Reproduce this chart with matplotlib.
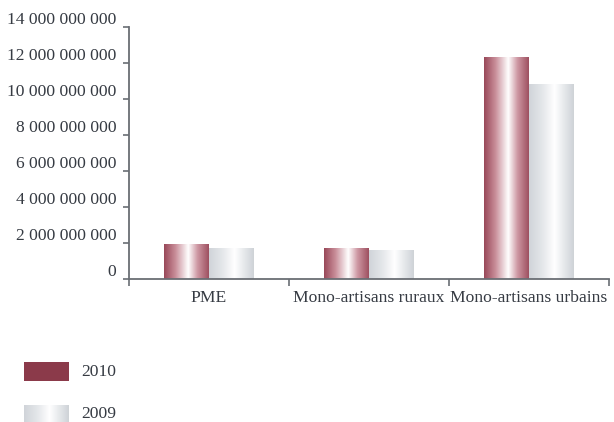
import numpy as np
import matplotlib
matplotlib.use("Agg")
import matplotlib.pyplot as plt
from matplotlib.colors import LinearSegmentedColormap
from matplotlib.ticker import FuncFormatter
import matplotlib.transforms as mtransforms

categories = ["PME", "Mono-artisans ruraux", "Mono-artisans urbains"]
series_names = ["2010", "2009"]
values_2010 = [1.94e9, 1.67e9, 12.28e9]
values_2009 = [1.67e9, 1.56e9, 10.83e9]
yticks = [0, 2e9, 4e9, 6e9, 8e9, 10e9, 12e9, 14e9]

plt.rcParams['font.family'] = ['Liberation Serif', 'DejaVu Serif']
text_color = '#363b43'
axis_color = '#6a6e74'
fs = 12.6

def rgb(r, g, b):
    return (r / 255, g / 255, b / 255)

cmap_2010 = LinearSegmentedColormap.from_list('c2010', [
    (0.0, rgb(152, 72, 88)), (0.25, rgb(200, 140, 152)), (0.54, rgb(255, 255, 255)),
    (0.75, rgb(205, 150, 162)), (1.0, rgb(158, 80, 96))])
cmap_2009 = LinearSegmentedColormap.from_list('c2009', [
    (0.0, rgb(208, 212, 217)), (0.3, rgb(228, 231, 234)), (0.57, rgb(255, 255, 255)),
    (0.8, rgb(228, 231, 234)), (1.0, rgb(206, 210, 215))])
grad = np.linspace(0, 1, 256).reshape(1, -1)

fig = plt.figure(figsize=(6.14, 4.22), dpi=100)
ax = fig.add_axes([129 / 614, 1 - 279 / 422, 480 / 614, 252 / 422])

x = np.arange(len(categories))
w = 0.28
bars_a = ax.bar(x - w / 2, values_2010, w, facecolor='none', edgecolor='none')
bars_b = ax.bar(x + w / 2, values_2009, w, facecolor='none', edgecolor='none')
for bars, cm in ((bars_a, cmap_2010), (bars_b, cmap_2009)):
    for r in bars:
        x0, wd, h = r.get_x(), r.get_width(), r.get_height()
        ax.imshow(grad, cmap=cm, aspect='auto', extent=(x0, x0 + wd, 0, h),
                  interpolation='bilinear', zorder=2)

ax.set_xlim(-0.5, len(categories) - 0.5)
ax.set_ylim(0, 14e9)
for s in ['top', 'right']:
    ax.spines[s].set_visible(False)
for s in ['left', 'bottom']:
    ax.spines[s].set_color(axis_color)
    ax.spines[s].set_linewidth(1.3)

ax.set_yticks(yticks)
ax.yaxis.set_major_formatter(FuncFormatter(lambda v, p: f"{int(round(v)):,}".replace(",", " ")))
ax.tick_params(axis='y', length=4, width=1.2, color=axis_color, pad=5,
               labelsize=fs, labelcolor=text_color)
offset = mtransforms.ScaledTranslation(0, 3 / 100, fig.dpi_scale_trans)
for lbl in ax.get_yticklabels():
    lbl.set_verticalalignment('baseline')
    lbl.set_transform(lbl.get_transform() + offset)

ax.set_xticks(np.arange(len(categories) + 1) - 0.5)
ax.set_xticklabels([])
ax.set_xticks(x, minor=True)
ax.set_xticklabels(categories, minor=True)
ax.tick_params(axis='x', which='major', length=5, width=1.2, color=axis_color)
ax.tick_params(axis='x', which='minor', length=0, pad=8, labelsize=fs, labelcolor=text_color)

# legend
sw_w, sw_h = 45 / 614, 19 / 422
lx = 24 / 614
ly1 = 1 - 381 / 422
ly2 = 1 - 424 / 422
fig.patches.append(plt.Rectangle((lx, ly1), sw_w, sw_h, transform=fig.transFigure,
                                 facecolor=rgb(139, 58, 74), edgecolor='none'))
lax = fig.add_axes([lx, ly2, sw_w, sw_h])
lax.imshow(grad, cmap=cmap_2009, aspect='auto', interpolation='bilinear')
lax.axis('off')
fig.text(81 / 614, ly1 + sw_h / 2, series_names[0], fontsize=fs, color=text_color, va='center')
fig.text(81 / 614, 1 - 414 / 422, series_names[1], fontsize=fs, color=text_color, va='center')

fig.savefig('out.png', dpi=100)
